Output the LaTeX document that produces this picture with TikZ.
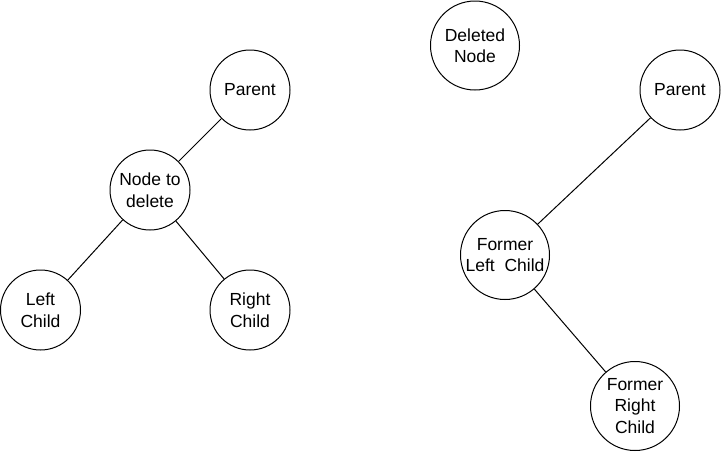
\documentclass[tikz,border=0pt]{standalone}
\usepackage{fontspec}
\setmainfont{Liberation Sans}
\usetikzlibrary{positioning}
\tikzstyle{treenode} = [circle, draw, line width=1pt, minimum size=80pt, inner sep=0pt, align=center, font=\fontsize{17.5}{21.5}\selectfont]
\tikzstyle{bignode} = [treenode, minimum size=89pt]
\tikzstyle{edge} = [line width=1pt]

\begin{document}
\begin{tikzpicture}[x=1pt, y=-1pt]
    \useasboundingbox (0, 0) rectangle (721, 451);

    % Before deletion
    \node[treenode] (parent1) at (250, 90) {Parent};
    \node[treenode] (del1) at (150, 190) {Node to\\delete};
    \node[treenode] (left1) at (40.5, 310) {Left\\Child};
    \node[treenode] (right1) at (250, 310) {Right\\Child};

    \draw[edge] (parent1) -- (del1);
    \draw[edge] (del1) -- (left1);
    \draw[edge] (del1) -- (right1);

    % After deletion
    \node[bignode] (deleted2) at (475, 45.5) {Deleted\\Node};
    \node[treenode] (parent2) at (680, 90) {Parent};
    \node[bignode] (left2) at (505, 255) {Former\\Left\ \ Child};
    \node[bignode] (right2) at (635, 406) {Former\\Right\\Child};

    \draw[edge] (parent2) -- (left2);
    \draw[edge] (left2) -- (right2);

\end{tikzpicture}
\end{document}
